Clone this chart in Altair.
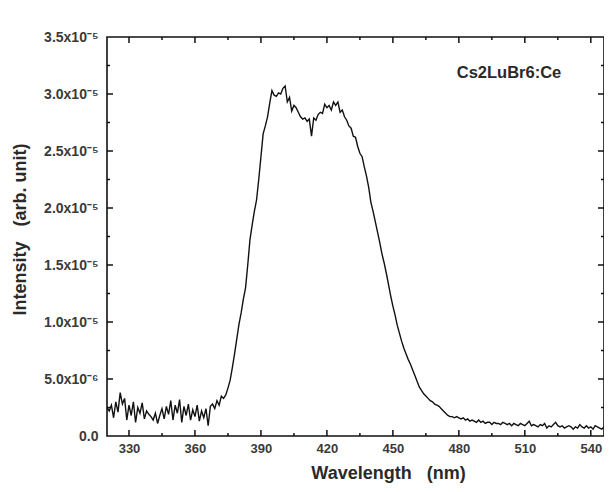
import altair as alt
import pandas as pd

wavelength = list(range(320, 551))
intensity = [
    0.25, 0.22, 0.27, 0.16, 0.30, 0.21, 0.38, 0.28, 0.33, 0.14,  # 320-329
    0.27, 0.18, 0.30, 0.12, 0.25, 0.20, 0.29, 0.15, 0.22, 0.19,  # 330-339
    0.17, 0.14, 0.20, 0.11, 0.18, 0.24, 0.15, 0.26, 0.19, 0.31,  # 340-349
    0.14, 0.27, 0.20, 0.32, 0.12, 0.26, 0.18, 0.28, 0.14, 0.23,  # 350-359
    0.17, 0.27, 0.13, 0.22, 0.16, 0.24, 0.09, 0.26, 0.28, 0.24,  # 360-369
    0.31, 0.27, 0.35, 0.33, 0.36, 0.42, 0.49, 0.60, 0.72, 0.85,  # 370-379
    0.98, 1.08, 1.20, 1.30, 1.50, 1.72, 1.85, 1.97, 2.07, 2.25,  # 380-389
    2.45, 2.65, 2.72, 2.80, 2.92, 3.03, 2.99, 2.98, 3.01, 3.00,  # 390-399
    3.05, 3.07, 2.93, 2.97, 2.85, 2.90, 2.88, 2.84, 2.80, 2.78,  # 400-409
    2.79, 2.76, 2.78, 2.63, 2.79, 2.77, 2.82, 2.84, 2.83, 2.91,  # 410-419
    2.88, 2.90, 2.86, 2.93, 2.90, 2.93, 2.84, 2.86, 2.80, 2.77,  # 420-429
    2.72, 2.70, 2.63, 2.62, 2.54, 2.48, 2.45, 2.36, 2.28, 2.18,  # 430-439
    2.05, 1.97, 1.88, 1.79, 1.70, 1.60, 1.52, 1.43, 1.33, 1.23,  # 440-449
    1.14, 1.06, 0.97, 0.90, 0.83, 0.77, 0.72, 0.67, 0.63, 0.58,  # 450-459
    0.53, 0.48, 0.43, 0.40, 0.37, 0.35, 0.33, 0.31, 0.30, 0.28,  # 460-469
    0.27, 0.26, 0.24, 0.22, 0.20, 0.18, 0.17, 0.17, 0.16, 0.17,  # 470-479
    0.16, 0.15, 0.16, 0.14, 0.15, 0.13, 0.14, 0.13, 0.12, 0.14,  # 480-489
    0.12, 0.13, 0.11, 0.12, 0.12, 0.10, 0.12, 0.11, 0.11, 0.10,  # 490-499
    0.12, 0.11, 0.10, 0.11, 0.09, 0.11, 0.10, 0.09, 0.11, 0.10,  # 500-509
    0.09, 0.11, 0.13, 0.09, 0.10, 0.09, 0.08, 0.10, 0.09, 0.11,  # 510-519
    0.07, 0.09, 0.08, 0.10, 0.12, 0.09, 0.08, 0.09, 0.07, 0.08,  # 520-529
    0.09, 0.08, 0.06, 0.08, 0.07, 0.10, 0.08, 0.07, 0.09, 0.07,  # 530-539
    0.08, 0.06, 0.09, 0.08, 0.07, 0.06, 0.08, 0.07, 0.06, 0.07,  # 540-549
    0.06,                                                        # 550
]

x_major = [330, 360, 390, 420, 450, 480, 510, 540]
x_minor = [345, 375, 405, 435, 465, 495, 525]
y_major = [0.5, 1.0, 1.5, 2.0, 2.5, 3.0]
y_minor = [0.25, 0.75, 1.25, 1.75, 2.25, 2.75, 3.25]
y_labels = [0.0, 0.5, 1.0, 1.5, 2.0, 2.5, 3.0, 3.5]
annotation = ["Cs2LuBr6:Ce"]

W, H = 497, 399
MAJ, MIN = 6, 3
FONT = "Liberation Sans"
INK = "#111111"
NB = "\u00a0"

df = pd.DataFrame({"wl": wavelength, "I": intensity})
dfx_major = pd.DataFrame({"t": x_major})
dfx_minor = pd.DataFrame({"t": x_minor})
dfy_major = pd.DataFrame({"v": y_major})
dfy_minor = pd.DataFrame({"v": y_minor})
dfa = pd.DataFrame({"txt": annotation})

xscale = alt.Scale(domain=[320, 546], nice=False, zero=False)
yscale = alt.Scale(domain=[0, 3.5], nice=False, zero=False)

xaxis = alt.Axis(
    values=x_major, ticks=False, domain=False, grid=False,
    labelFont=FONT, labelFontSize=13, labelFontWeight="bold", labelColor="#3a3a3a",
    labelPadding=6,
    titleFont=FONT, titleFontSize=18, titleFontWeight="bold", titleColor="#2a2a2a",
    titleX=281, titleY=28,
)
label_expr = (
    "datum.value == 0 ? '0.0' : (datum.value == 0.5 ? '5.0x10⁻⁶' : "
    "format(datum.value, '.1f') + 'x10⁻⁵')"
)
yaxis = alt.Axis(
    values=y_labels, ticks=False, domain=False, grid=False,
    labelExpr=label_expr,
    labelFont=FONT, labelFontSize=14, labelFontWeight="bold", labelColor="#3a3a3a",
    labelPadding=9,
    titleFont=FONT, titleFontSize=18, titleFontWeight="bold", titleColor="#2a2a2a",
    titleX=-78, titleY=192,
)

XT = "Wavelength" + NB * 3 + "(nm)"
YT = "Intensity" + NB * 3 + "(arb. unit)"

line = alt.Chart(df).mark_line(color=INK, strokeWidth=1.4, clip=True).encode(
    x=alt.X("wl:Q", scale=xscale, axis=xaxis, title=XT),
    y=alt.Y("I:Q", scale=yscale, axis=yaxis, title=YT),
)


def xticks(data, length, top):
    if top:
        yenc = dict(y=alt.value(0), y2=alt.value(length))
    else:
        yenc = dict(y=alt.value(H), y2=alt.value(H - length))
    return alt.Chart(data).mark_rule(color=INK, strokeWidth=1.5).encode(
        x=alt.X("t:Q", scale=xscale, axis=xaxis, title=XT), **yenc
    )


def yticks(data, length, right):
    if right:
        xenc = dict(x=alt.value(W), x2=alt.value(W - length))
    else:
        xenc = dict(x=alt.value(0), x2=alt.value(length))
    return alt.Chart(data).mark_rule(color=INK, strokeWidth=1.5).encode(
        y=alt.Y("v:Q", scale=yscale, axis=yaxis, title=YT), **xenc
    )


label = alt.Chart(dfa).mark_text(
    font=FONT, fontSize=16.5, fontWeight="bold",
    color="#2a2a2a", align="center", baseline="middle",
).encode(text="txt:N", x=alt.value(402), y=alt.value(36))

chart = alt.layer(
    line,
    xticks(dfx_major, MAJ, False), xticks(dfx_minor, MIN, False),
    xticks(dfx_major, MAJ, True), xticks(dfx_minor, MIN, True),
    yticks(dfy_major, MAJ, False), yticks(dfy_minor, MIN, False),
    yticks(dfy_major, MAJ, True), yticks(dfy_minor, MIN, True),
    label,
).properties(
    width=W, height=H,
    autosize=alt.AutoSizeParams(type="none"),
    padding={"left": 99, "top": 29, "right": 0, "bottom": 48},
).configure(
    background="white",
    view=alt.ViewConfig(stroke=INK, strokeWidth=1.6),
)

chart.save("out.html", embed_options={"renderer": "svg", "actions": False})
